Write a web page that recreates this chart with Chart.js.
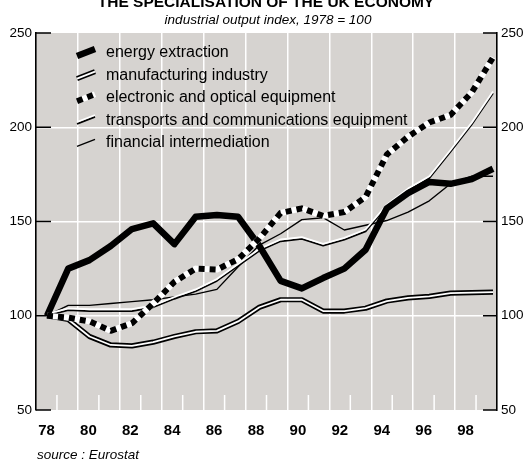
<!DOCTYPE html>
<html>
<head>
<meta charset="utf-8">
<script src="https://cdn.jsdelivr.net/npm/chart.js@4.4.1/dist/chart.umd.min.js"></script>
<style>
  html, body { margin: 0; padding: 0; background: #ffffff; overflow: hidden; }
  canvas { display: block; }
</style>
</head>
<body>
<canvas id="c" width="531" height="462"></canvas>
<script>
// ---- data ----
const years = [1978,1979,1980,1981,1982,1983,1984,1985,1986,1987,1988,1989,1990,1991,1992,1993,1994,1995,1996,1997,1998,1999];
const energyExtraction = [100,125,129.5,137,146,149,138,152.5,153.5,152.5,137,118.5,114.5,120,125,135,157,165,171,170,172.5,178];
const manufacturing = [100,98,89,84.5,84,86,89,91.5,92,97,104.5,108.5,108.5,102.5,102.5,104,107.8,109.5,110.3,112,112.3,112.5];
const electronicOptical = [100,99,97,92,96,106.5,118,125,124.5,130,141,154.5,157,153,155,163,185.5,195,202.5,206.5,218.5,237];
const transportsComms = [100,103,102.5,102.5,102.5,104.5,109,113,118.5,126.5,134.5,139.5,140.8,137.2,140.4,144.8,158,166.5,173,187,201.5,218];
const financial = [100,105.5,105.5,106.5,107.5,108.5,110,111.5,114,126,137.5,143.5,151,152,145.5,148,150.5,155,161,170,174,174];
const yTickValues = [50,100,150,200,250];
const xLabelYears = [1978,1980,1982,1984,1986,1988,1990,1992,1994,1996,1998];
const seriesNames = ['energy extraction','manufacturing industry','electronic and optical equipment','transports and communications equipment','financial intermediation'];
const titleText = 'THE SPECIALISATION OF THE UK ECONOMY';
const subtitleText = 'industrial output index, 1978 = 100';
const sourceText = 'source : Eurostat';

const FONT = "'Liberation Sans', Arial, Helvetica, sans-serif";
const GRAY = '#d6d3d0';

function pts(vals) { return years.map((y, i) => ({ x: y, y: vals[i] })); }

const base = { pointRadius: 0, pointHoverRadius: 0, tension: 0, fill: false, xAxisID: 'x', yAxisID: 'y', borderJoinStyle: 'round' };

const datasets = [
  Object.assign({}, base, { label: seriesNames[2], data: pts(electronicOptical), borderColor: '#000', borderWidth: 6, borderDash: [6, 5], borderJoinStyle: 'round' }),
  Object.assign({}, base, { label: seriesNames[2] + ' bg', data: pts(electronicOptical), borderColor: '#fff', borderWidth: 6 }),
  Object.assign({}, base, { label: seriesNames[0], data: pts(energyExtraction), borderColor: '#000', borderWidth: 6.5 }),
  Object.assign({}, base, { label: seriesNames[3] + ' hi', data: pts(transportsComms), borderColor: '#fff', borderWidth: 1.8, shiftY: -1.8 }),
  Object.assign({}, base, { label: seriesNames[3], data: pts(transportsComms), borderColor: '#000', borderWidth: 1.8 }),
  Object.assign({}, base, { label: seriesNames[4], data: pts(financial), borderColor: '#000', borderWidth: 1.4 }),
  Object.assign({}, base, { label: seriesNames[1] + ' in', data: pts(manufacturing), borderColor: '#fff', borderWidth: 1.8 }),
  Object.assign({}, base, { label: seriesNames[1], data: pts(manufacturing), borderColor: '#000', borderWidth: 5.2 })
];

const decor = {
  id: 'decor',
  beforeDraw(chart) {
    const { ctx, chartArea: a } = chart;
    ctx.save();
    ctx.fillStyle = GRAY;
    ctx.fillRect(a.left, a.top, a.right - a.left, a.bottom - a.top);
    ctx.restore();
  },
  beforeDatasetsDraw(chart) {
    const { ctx, chartArea: a } = chart;
    const ys = chart.scales.y, xg = chart.scales.xg;
    ctx.save();
    // inner black ticks on both y axes
    ctx.strokeStyle = '#000';
    ctx.lineWidth = 1.6;
    yTickValues.forEach(v => {
      const py = ys.getPixelForValue(v);
      ctx.beginPath();
      ctx.moveTo(a.left, py); ctx.lineTo(a.left + 15, py);
      ctx.moveTo(a.right - 14, py); ctx.lineTo(a.right, py);
      ctx.stroke();
    });
    // short white minor ticks at odd years
    ctx.strokeStyle = '#fff';
    ctx.lineWidth = 1.5;
    years.forEach(yr => {
      if (yr % 2 === 1) {
        const px = xg.getPixelForValue(yr);
        ctx.beginPath();
        ctx.moveTo(px, a.bottom); ctx.lineTo(px, a.bottom - 15);
        ctx.stroke();
      }
    });
    ctx.restore();
  },
  beforeDatasetDraw(chart, args) {
    const ds = chart.data.datasets[args.index];
    chart.ctx.save();
    if (ds.shiftY) chart.ctx.translate(0, ds.shiftY);
  },
  afterDatasetDraw(chart) {
    chart.ctx.restore();
  },
  afterDraw(chart) {
    const { ctx } = chart;
    ctx.save();
    ctx.fillStyle = '#000';
    // title & subtitle
    ctx.textAlign = 'center';
    ctx.textBaseline = 'alphabetic';
    ctx.font = 'bold 15.5px ' + FONT;
    ctx.fillText(titleText, 266, 7);
    ctx.font = 'italic 13.5px ' + FONT;
    ctx.fillText(subtitleText, 268, 24);
    // source
    ctx.textAlign = 'left';
    ctx.font = 'italic 13.5px ' + FONT;
    ctx.fillText(sourceText, 37, 459);
    // legend
    const x0 = 77, x1 = 95, tx = 106;
    ctx.font = '16px ' + FONT;
    ctx.textBaseline = 'middle';
    seriesNames.forEach((name, i) => {
      const cy = 52.5 + i * 22.6;
      const seg = (w, col, dash, dy) => {
        ctx.beginPath();
        ctx.setLineDash(dash || []);
        ctx.strokeStyle = col; ctx.lineWidth = w;
        ctx.moveTo(x0, cy + 3.5 + (dy || 0)); ctx.lineTo(x1, cy - 3.5 + (dy || 0));
        ctx.stroke();
        ctx.setLineDash([]);
      };
      if (i === 0) seg(6.5, '#000');
      if (i === 1) { seg(5.2, '#000'); seg(1.8, '#fff'); }
      if (i === 2) { seg(6, '#fff'); seg(6, '#000', [6, 5]); }
      if (i === 3) { seg(1.8, '#000'); seg(1.8, '#fff', null, -1.8); }
      if (i === 4) seg(1.4, '#000');
      ctx.fillStyle = '#000';
      ctx.fillText(name, tx, cy);
    });
    ctx.restore();
  }
};

new Chart(document.getElementById('c'), {
  type: 'line',
  data: { datasets },
  plugins: [decor],
  options: {
    responsive: false,
    animation: false,
    events: [],
    layout: { padding: { top: 33, left: 0, right: 0, bottom: 0 } },
    plugins: { legend: { display: false }, tooltip: { enabled: false }, title: { display: false } },
    scales: {
      x: {
        type: 'linear', display: false, position: 'bottom',
        min: 1977.482, max: 1999.188
      },
      xg: {
        type: 'linear', position: 'bottom', min: 1978, max: 2000,
        afterBuildTicks(s) { s.ticks = years.slice(1).concat([2000]).filter(v => v < 2000).map(v => ({ value: v })); },
        ticks: { display: false },
        grid: {
          drawTicks: false,
          lineWidth: 1.5,
          color: (c) => (c.tick && c.tick.value % 2 === 0) ? '#ffffff' : 'rgba(0,0,0,0)'
        },
        border: { display: false },
        afterFit(s) { s.height = 0; }
      },
      xl: {
        type: 'linear', position: 'bottom', min: 1978, max: 2000,
        afterBuildTicks(s) { s.ticks = xLabelYears.map(v => ({ value: v + 0.5 })); },
        ticks: {
          padding: 12, color: '#000', maxRotation: 0, autoSkip: false,
          font: { family: FONT, size: 15, weight: 'bold' },
          callback: (v) => String(Math.floor(v)).slice(2)
        },
        grid: { display: false, drawTicks: false },
        border: { display: false },
        afterFit(s) { s.height = 52; }
      },
      y: {
        type: 'linear', position: 'left', min: 50, max: 250,
        afterBuildTicks(s) { s.ticks = yTickValues.map(v => ({ value: v })); },
        ticks: { padding: 4, color: '#000', font: { family: FONT, size: 13.5 } },
        grid: {
          drawTicks: false, lineWidth: 1.5,
          color: (c) => (c.tick && c.tick.value > 50 && c.tick.value < 250) ? '#ffffff' : 'rgba(0,0,0,0)'
        },
        border: { display: true, color: '#000', width: 1.6 },
        afterFit(s) { s.width = 36; }
      },
      y2: {
        type: 'linear', position: 'right', min: 50, max: 250,
        afterBuildTicks(s) { s.ticks = yTickValues.map(v => ({ value: v })); },
        ticks: { padding: 4, color: '#000', font: { family: FONT, size: 13.5 } },
        grid: { drawOnChartArea: false, drawTicks: false },
        border: { display: true, color: '#000', width: 1.6 },
        afterFit(s) { s.width = 34; }
      }
    }
  }
});
</script>
</body>
</html>
